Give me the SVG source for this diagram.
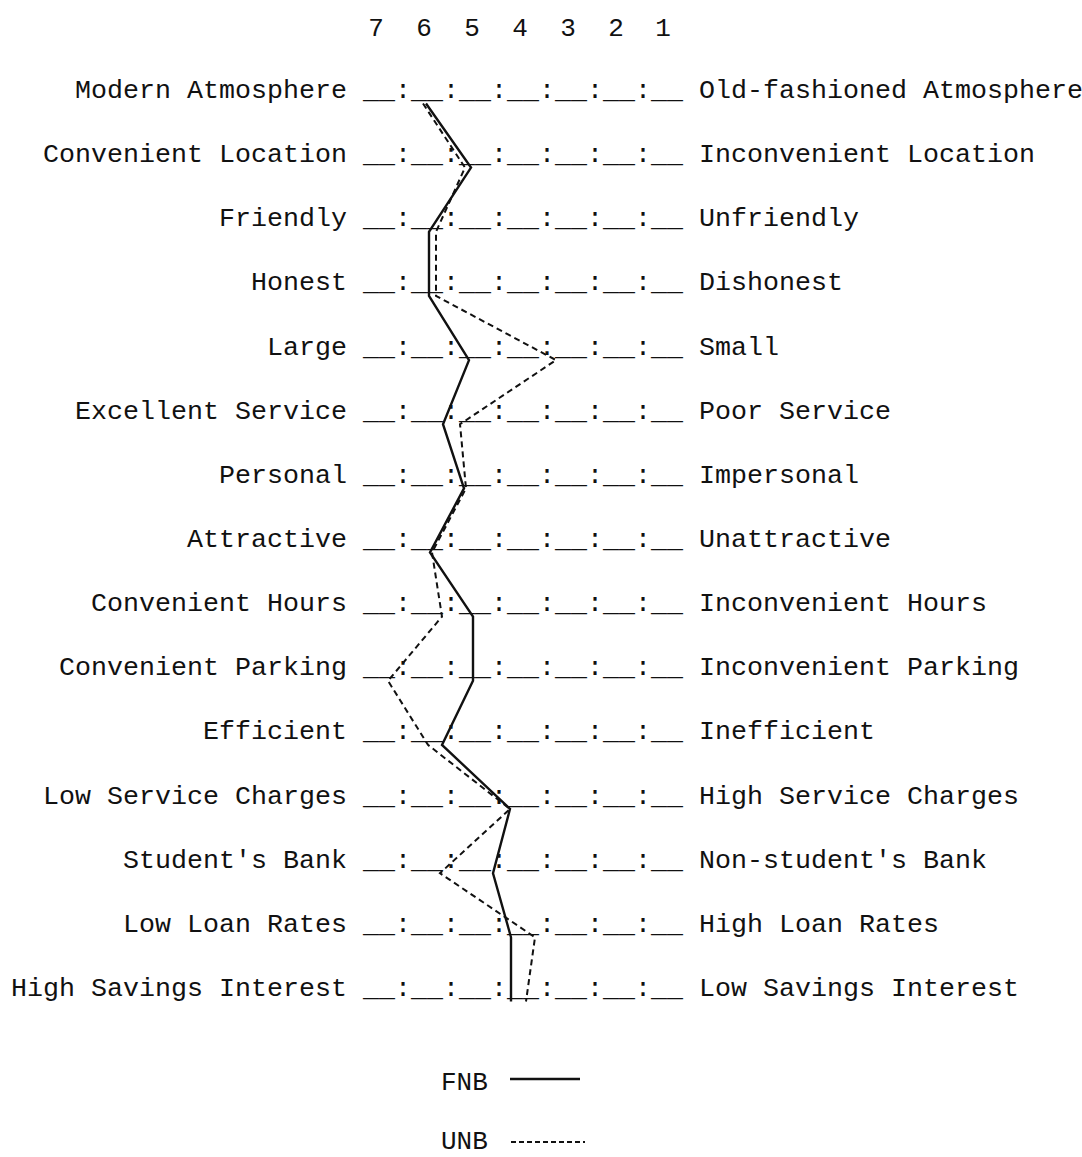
<svg xmlns="http://www.w3.org/2000/svg" width="1082" height="1157" viewBox="0 0 1082 1157">
  <style>
    text { font-family: "Liberation Mono", "DejaVu Sans Mono", monospace; font-size: 26.667px; fill: #111; }
    .lbl { text-anchor: end; }
    .num { text-anchor: middle; font-size: 26px; }
    .key { font-size: 26px; }
    .fnb { fill: none; stroke: #111; stroke-width: 2.4; stroke-linejoin: miter; }
    .unb { fill: none; stroke: #111; stroke-width: 2; stroke-dasharray: 6 4; }
  </style>
  <rect width="1082" height="1157" fill="#fff"/>

  <!-- rating scale header -->
  <g id="scale-header">
    <text class="num" x="376" y="36">7</text>
    <text class="num" x="424" y="36">6</text>
    <text class="num" x="472" y="36">5</text>
    <text class="num" x="520" y="36">4</text>
    <text class="num" x="568" y="36">3</text>
    <text class="num" x="616" y="36">2</text>
    <text class="num" x="663" y="36">1</text>
  </g>

  <!-- one bipolar item per row: left label, 7-point scale, right label -->
  <g id="row-1"><text class="lbl" x="347" y="98">Modern Atmosphere</text><text x="363" y="98">__:__:__:__:__:__:__</text><text x="699" y="98">Old-fashioned Atmosphere</text></g>
  <g id="row-2"><text class="lbl" x="347" y="162.1">Convenient Location</text><text x="363" y="162.1">__:__:__:__:__:__:__</text><text x="699" y="162.1">Inconvenient Location</text></g>
  <g id="row-3"><text class="lbl" x="347" y="226.3">Friendly</text><text x="363" y="226.3">__:__:__:__:__:__:__</text><text x="699" y="226.3">Unfriendly</text></g>
  <g id="row-4"><text class="lbl" x="347" y="290.4">Honest</text><text x="363" y="290.4">__:__:__:__:__:__:__</text><text x="699" y="290.4">Dishonest</text></g>
  <g id="row-5"><text class="lbl" x="347" y="354.6">Large</text><text x="363" y="354.6">__:__:__:__:__:__:__</text><text x="699" y="354.6">Small</text></g>
  <g id="row-6"><text class="lbl" x="347" y="418.7">Excellent Service</text><text x="363" y="418.7">__:__:__:__:__:__:__</text><text x="699" y="418.7">Poor Service</text></g>
  <g id="row-7"><text class="lbl" x="347" y="482.8">Personal</text><text x="363" y="482.8">__:__:__:__:__:__:__</text><text x="699" y="482.8">Impersonal</text></g>
  <g id="row-8"><text class="lbl" x="347" y="547">Attractive</text><text x="363" y="547">__:__:__:__:__:__:__</text><text x="699" y="547">Unattractive</text></g>
  <g id="row-9"><text class="lbl" x="347" y="611.1">Convenient Hours</text><text x="363" y="611.1">__:__:__:__:__:__:__</text><text x="699" y="611.1">Inconvenient Hours</text></g>
  <g id="row-10"><text class="lbl" x="347" y="675.3">Convenient Parking</text><text x="363" y="675.3">__:__:__:__:__:__:__</text><text x="699" y="675.3">Inconvenient Parking</text></g>
  <g id="row-11"><text class="lbl" x="347" y="739.4">Efficient</text><text x="363" y="739.4">__:__:__:__:__:__:__</text><text x="699" y="739.4">Inefficient</text></g>
  <g id="row-12"><text class="lbl" x="347" y="803.5">Low Service Charges</text><text x="363" y="803.5">__:__:__:__:__:__:__</text><text x="699" y="803.5">High Service Charges</text></g>
  <g id="row-13"><text class="lbl" x="347" y="867.7">Student's Bank</text><text x="363" y="867.7">__:__:__:__:__:__:__</text><text x="699" y="867.7">Non-student's Bank</text></g>
  <g id="row-14"><text class="lbl" x="347" y="931.8">Low Loan Rates</text><text x="363" y="931.8">__:__:__:__:__:__:__</text><text x="699" y="931.8">High Loan Rates</text></g>
  <g id="row-15"><text class="lbl" x="347" y="996">High Savings Interest</text><text x="363" y="996">__:__:__:__:__:__:__</text><text x="699" y="996">Low Savings Interest</text></g>

  <!-- mean profiles of the two banks -->
  <g id="profiles">
    <polyline class="fnb" points="426,103.5 471,167.6 429,231.8 429,295.9 469,360.1 443,424.2 464,488.3 430,552.5 473,616.6 473,680.8 442,744.9 510,809 493,873.2 511,937.3 511,1001.5"/>
    <polyline class="unb" points="423,103.5 465,167.6 436,231.8 436,295.9 556,360.1 460,424.2 466,488.3 432,552.5 442,616.6 388,680.8 428,744.9 510,809 440,873.2 535,937.3 526,1001.5"/>
  </g>

  <!-- legend -->
  <g id="legend">
    <text class="key" x="441" y="1090">FNB</text>
    <line x1="510" y1="1079" x2="580" y2="1079" stroke="#111" stroke-width="2.4"/>
    <text class="key" x="441" y="1149">UNB</text>
    <line x1="511" y1="1142" x2="585" y2="1142" stroke="#111" stroke-width="1.8" stroke-dasharray="5 3"/>
  </g>
</svg>
